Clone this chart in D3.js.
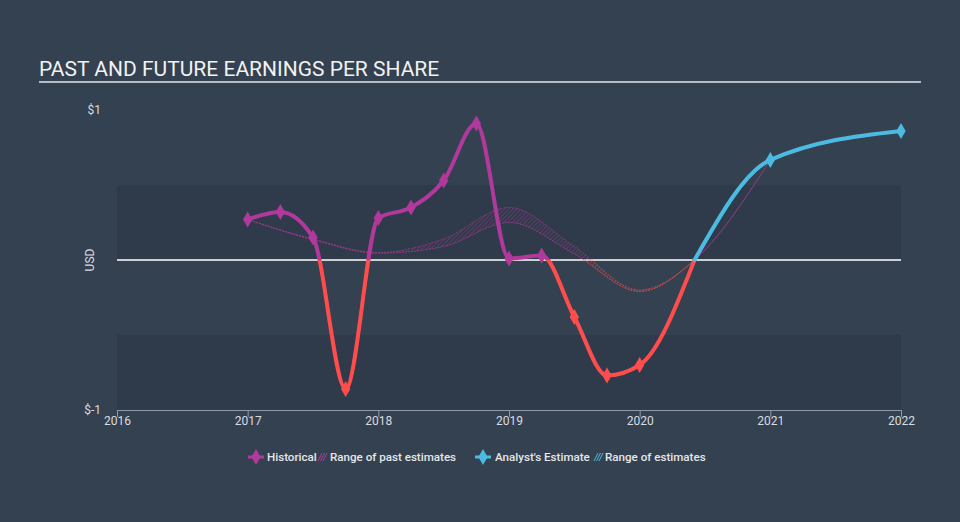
<!DOCTYPE html>
<html>
<head>
<meta charset="utf-8">
<script src="https://cdn.jsdelivr.net/npm/d3@7"></script>
<style>
  html, body { margin: 0; padding: 0; background: #344150; }
  svg { display: block; font-family: Roboto, "Noto Sans", sans-serif; }
</style>
</head>
<body>
<svg id="chart" width="960" height="522"></svg>
<script>
// ---- data ----
const title = "PAST AND FUTURE EARNINGS PER SHARE";
const xTicks = [2016, 2017, 2018, 2019, 2020, 2021, 2022];
const yTickValues = [-1, 1];
const yTickLabels = ["$-1", "$1"];
const histYears = [2017, 2017.25, 2017.5, 2017.75, 2018, 2018.25, 2018.5, 2018.75, 2019, 2019.25, 2019.5, 2019.75, 2020, 2020.42];
const histEPS   = [0.27, 0.32, 0.15, -0.86, 0.28, 0.35, 0.53, 0.91, 0.01, 0.03, -0.38, -0.77, -0.70, 0.0];
const histMarkerCount = 13;
const estYears = [2020.42, 2021, 2022];
const estEPS   = [0.0, 0.667, 0.86];
const estMarkerYears = [2021, 2022];
const rangeYears = [2017, 2017.5, 2018, 2018.5, 2019, 2019.5, 2020, 2020.42, 2021];
const rangeLow   = [0.27, 0.135, 0.045, 0.09, 0.25, 0.04, -0.21, 0.0, 0.667];
const rangeHigh  = [0.27, 0.14, 0.05, 0.14, 0.35, 0.09, -0.20, 0.0, 0.667];
const legendItems = ["Historical", "Range of past estimates", "Analyst's Estimate", "Range of estimates"];

// ---- colors ----
const purple = "#b0399b", red = "#ff4d4d", cyan = "#4bbbe2";

const svg = d3.select("#chart");
const x = d3.scaleLinear().domain([2016, 2022]).range([117, 901]);
const y = d3.scaleLinear().domain([-1, 1]).range([410, 110]);

const defs = svg.append("defs");
function hatch(id, color) {
  const p = defs.append("pattern").attr("id", id).attr("patternUnits", "userSpaceOnUse")
    .attr("width", 3).attr("height", 3).attr("patternTransform", "rotate(45)");
  p.append("line").attr("x1", 0).attr("y1", 0).attr("x2", 0).attr("y2", 3)
    .attr("stroke", color).attr("stroke-width", 1).attr("stroke-opacity", 0.75);
}
hatch("hatchP", purple);
hatch("hatchR", red);
defs.append("clipPath").attr("id", "clipPos").append("rect")
  .attr("x", 0).attr("y", 0).attr("width", 960).attr("height", y(0));
defs.append("clipPath").attr("id", "clipNeg").append("rect")
  .attr("x", 0).attr("y", y(0)).attr("width", 960).attr("height", 522 - y(0));

// background bands
const bands = [[0.5, 0], [-0.5, -1]];
svg.append("g").selectAll("rect").data(bands).join("rect")
  .attr("x", x(2016)).attr("width", x(2022) - x(2016))
  .attr("y", d => y(d[0])).attr("height", d => y(d[1]) - y(d[0]))
  .attr("fill", "#2f3b4a");

// title
svg.append("text").attr("x", 39).attr("y", 76).attr("fill", "#f2f2f2")
  .attr("font-size", 21).text(title);
svg.append("line").attr("x1", 39).attr("x2", 921).attr("y1", 82).attr("y2", 82)
  .attr("stroke", "#b5bcc4").attr("stroke-width", 2);

// y labels
svg.append("g").selectAll("text").data(yTickValues).join("text")
  .attr("x", 101).attr("y", d => y(d) + 4).attr("text-anchor", "end")
  .attr("fill", "#d8dce0").attr("font-size", 12)
  .text((d, i) => yTickLabels[i]);
svg.append("text").attr("transform", `translate(94,${y(0)}) rotate(-90)`)
  .attr("text-anchor", "middle").attr("fill", "#d8dce0").attr("font-size", 12).text("USD");

// x axis
const xAxis = svg.append("g").attr("transform", `translate(0,${y(-1)})`)
  .call(d3.axisBottom(x).tickValues(xTicks).tickFormat(d3.format("d")).tickSize(7).tickSizeOuter(0));
xAxis.select(".domain").attr("stroke", "#8e99a6");
xAxis.selectAll(".tick line").attr("stroke", "#8e99a6");
xAxis.selectAll(".tick text").attr("fill", "#d8dce0").attr("font-size", 12)
  .attr("font-family", "Roboto, sans-serif").attr("dy", "0.55em").attr("y", 8);

// zero line
svg.append("line").attr("x1", x(2016)).attr("x2", x(2022)).attr("y1", y(0)).attr("y2", y(0))
  .attr("stroke", "#ffffff").attr("stroke-width", 1.5);

// range of past estimates
const rangeData = rangeYears.map((t, i) => ({t, lo: rangeLow[i], hi: rangeHigh[i]}));
const rc = d3.curveMonotoneX;
const area = d3.area().x(d => x(d.t)).y0(d => y(d.lo)).y1(d => y(d.hi)).curve(rc);
const loLine = d3.line().x(d => x(d.t)).y(d => y(d.lo)).curve(rc);
const hiLine = d3.line().x(d => x(d.t)).y(d => y(d.hi)).curve(rc);
[["clipPos", purple, "hatchP"], ["clipNeg", red, "hatchR"]].forEach(([clip, col, pat]) => {
  const g = svg.append("g").attr("clip-path", `url(#${clip})`);
  g.append("path").datum(rangeData).attr("d", area).attr("fill", `url(#${pat})`);
  g.append("path").datum(rangeData).attr("d", loLine).attr("fill", "none")
    .attr("stroke", col).attr("stroke-width", 1).attr("stroke-opacity", 0.75).attr("stroke-dasharray", "2,1");
  g.append("path").datum(rangeData).attr("d", hiLine).attr("fill", "none")
    .attr("stroke", col).attr("stroke-width", 1).attr("stroke-opacity", 0.6).attr("stroke-dasharray", "2,1");
});

// historical line
const histData = histYears.map((t, i) => ({t, v: histEPS[i]}));
const line = d3.line().x(d => x(d.t)).y(d => y(d.v)).curve(d3.curveMonotoneX);
[["clipPos", purple], ["clipNeg", red]].forEach(([clip, col]) => {
  svg.append("path").datum(histData).attr("clip-path", `url(#${clip})`)
    .attr("d", line).attr("fill", "none").attr("stroke", col).attr("stroke-width", 4)
    .attr("stroke-linejoin", "round").attr("stroke-linecap", "round");
});

// estimate line
const estData = estYears.map((t, i) => ({t, v: estEPS[i]}));
svg.append("path").datum(estData).attr("d", line).attr("fill", "none")
  .attr("stroke", cyan).attr("stroke-width", 4).attr("stroke-linecap", "round");

// markers
const diamond = d3.symbol().type(d3.symbolDiamond).size(75);
svg.append("g").selectAll("path").data(histData.slice(0, histMarkerCount)).join("path")
  .attr("transform", d => `translate(${x(d.t)},${y(d.v)})`)
  .attr("d", diamond).attr("fill", d => d.v >= 0 ? purple : red);
svg.append("g").selectAll("path").data(estData.filter(d => estMarkerYears.includes(d.t))).join("path")
  .attr("transform", d => `translate(${x(d.t)},${y(d.v)})`)
  .attr("d", diamond).attr("fill", cyan);

// legend
const lg = svg.append("g").attr("font-size", 11.6).attr("font-weight", 500).attr("fill", "#e4e7ea");
function lineIcon(cx, col) {
  lg.append("line").attr("x1", cx - 8).attr("x2", cx + 8).attr("y1", 457).attr("y2", 457)
    .attr("stroke", col).attr("stroke-width", 3);
  lg.append("path").attr("transform", `translate(${cx},457)`).attr("d", diamond).attr("fill", col);
}
function hatchIcon(cx, col) {
  for (let k = 0; k < 3; k++) {
    lg.append("line").attr("x1", cx - 4 + k * 2.5).attr("y1", 461).attr("x2", cx + k * 2.5).attr("y2", 453)
      .attr("stroke", col).attr("stroke-width", 1);
  }
}
lineIcon(256, purple);
lg.append("text").attr("x", 267).attr("y", 461).text(legendItems[0]);
hatchIcon(322, purple);
lg.append("text").attr("x", 330).attr("y", 461).text(legendItems[1]);
lineIcon(483, cyan);
lg.append("text").attr("x", 495).attr("y", 461).text(legendItems[2]);
hatchIcon(598, cyan);
lg.append("text").attr("x", 605).attr("y", 461).text(legendItems[3]);
</script>
</body>
</html>
